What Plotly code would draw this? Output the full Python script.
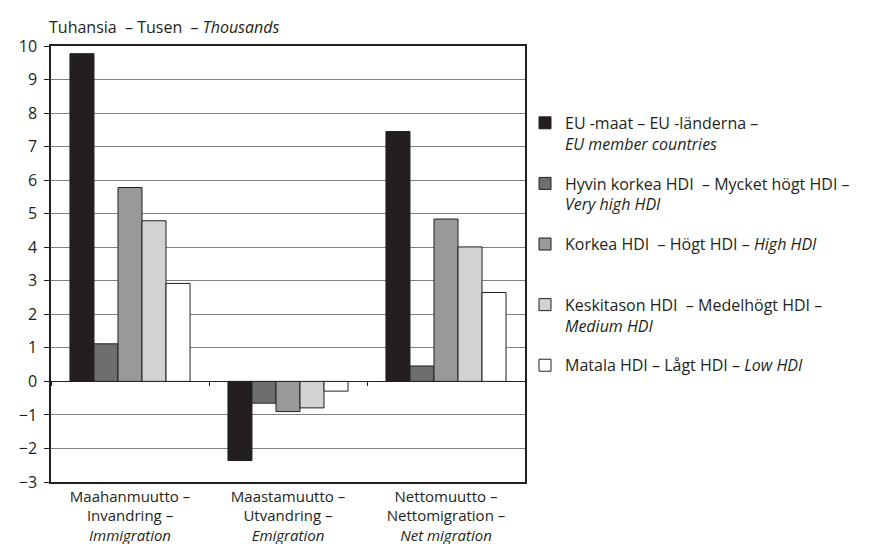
import plotly.graph_objects as go

NB = "\u00a0"
categories = [
    "Maahanmuutto –<br>Invandring –<br><i>Immigration</i>",
    "Maastamuutto –<br>Utvandring –<br><i>Emigration</i>",
    "Nettomuutto –<br>Nettomigration –<br><i>Net migration</i>",
]
series_names = [
    "EU -maat – EU -länderna –<br><i>EU member countries</i>",
    f"Hyvin korkea HDI{NB} – Mycket högt HDI –<br><i>Very high HDI</i>",
    f"Korkea HDI{NB} – Högt HDI – <i>High HDI</i><br> ",
    f"Keskitason HDI{NB} – Medelhögt HDI –<br><i>Medium HDI</i>",
    "Matala HDI – Lågt HDI – <i>Low HDI</i>",
]
eu = [9.77, -2.36, 7.45]
very_high = [1.12, -0.65, 0.46]
high = [5.78, -0.90, 4.84]
medium = [4.79, -0.79, 4.01]
low = [2.92, -0.29, 2.65]
values = [eu, very_high, high, medium, low]
colors = ["#231f20", "#6d6e70", "#98999b", "#d1d2d4", "#ffffff"]
y_ticks = list(range(-3, 11))
baseline = [0, 0, 0]

TXT = "#231f20"
FONT = "Open Sans"
FS = 16

fig = go.Figure()
for i, (name, vals, col) in enumerate(zip(series_names, values, colors)):
    fig.add_trace(go.Bar(
        x=categories, y=vals, name=name, legendgroup=f"g{i}",
        marker=dict(color=col, line=dict(color=TXT, width=1)),
    ))
# invisible helper trace so the zero-line category axis (boundary ticks) is drawn
fig.add_trace(go.Scatter(
    x=categories, y=baseline, xaxis="x2", yaxis="y",
    mode="markers", marker=dict(size=1, opacity=0),
    showlegend=False, hoverinfo="skip",
))

fig.update_layout(
    width=871, height=544,
    margin=dict(l=43, r=342, t=38, b=70),
    paper_bgcolor="white", plot_bgcolor="white",
    font=dict(family=FONT, size=FS, color=TXT),
    barmode="group", bargap=0.24, bargroupgap=0,
    showlegend=True,
    legend=dict(
        xref="container", yref="container", x=517 / 871, y=0.82,
        xanchor="left", yanchor="top", maxheight=500,
        font=dict(family=FONT, size=FS, color=TXT),
        tracegroupgap=16, valign="top", bgcolor="rgba(0,0,0,0)",
    ),
    annotations=[dict(
        text=f"Tuhansia{NB} – Tusen{NB} – <i>Thousands</i>",
        xref="paper", yref="paper", x=-0.008, y=1.0436,
        xanchor="left", yanchor="middle", showarrow=False,
        font=dict(family=FONT, size=FS, color=TXT),
    )],
    xaxis=dict(
        type="category", showline=True, mirror=True, linecolor=TXT, linewidth=1.5,
        ticks="", showgrid=False, tickfont=dict(size=15), ticklabelstandoff=0,
        automargin=False,
    ),
    xaxis2=dict(
        type="category", overlaying="x", anchor="free", position=3 / 13,
        categoryarray=categories, categoryorder="array", range=[-0.5, 2.5],
        tickson="boundaries", ticks="outside", ticklen=4, tickcolor=TXT,
        tickwidth=1, showticklabels=False, showline=False, showgrid=False,
        side="bottom", automargin=False,
    ),
    yaxis=dict(
        range=[-3, 10], tickvals=y_ticks, showline=True, mirror=True,
        linecolor=TXT, linewidth=1.5, ticks="outside", ticklen=5, tickcolor=TXT,
        showgrid=True, gridcolor="#808080", gridwidth=1,
        zeroline=True, zerolinecolor=TXT, zerolinewidth=1.2,
        tickfont=dict(size=FS), ticklabelstandoff=4, automargin=False,
    ),
)
fig.write_html("out.html")
